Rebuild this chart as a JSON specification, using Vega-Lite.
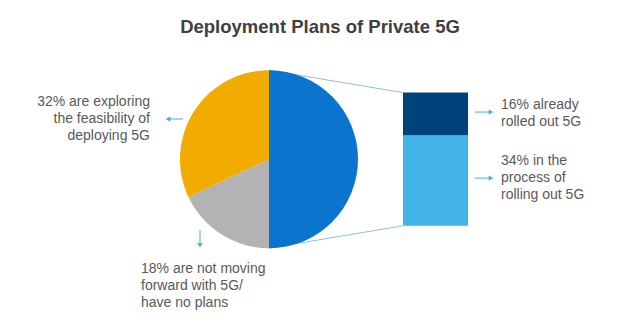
{
  "$schema": "https://vega.github.io/schema/vega-lite/v6.json",
  "width": 640,
  "height": 277,
  "autosize": {"type": "none"},
  "padding": {"top": 50, "left": 0, "right": 0, "bottom": 0},
  "background": "#ffffff",
  "title": {
    "text": "Deployment Plans of Private 5G",
    "font": "Liberation Sans",
    "fontSize": 18.5,
    "fontWeight": "bold",
    "color": "#404040",
    "anchor": "middle",
    "frame": "group",
    "baseline": "alphabetic",
    "offset": -1
  },
  "config": {
    "view": {"stroke": null},
    "axis": {"disable": true},
    "legend": {"disable": true},
    "text": {"font": "Liberation Sans", "fontSize": 14, "color": "#595959", "lineBreak": "\n", "lineHeight": 17, "baseline": "middle"}
  },
  "datasets": {
    "pie": [
      {"segment": "Rolling out or rolled out 5G", "value": 50, "rank": 1},
      {"segment": "Not moving forward / no plans", "value": 18, "rank": 2},
      {"segment": "Exploring feasibility", "value": 32, "rank": 3}
    ],
    "bar": [
      {"segment": "In the process of rolling out 5G", "value": 34, "rank": 1},
      {"segment": "Already rolled out 5G", "value": 16, "rank": 2}
    ],
    "notes": [
      {"id": "exploring", "label": "32% are exploring\nthe feasibility of\ndeploying 5G"},
      {"id": "noplans", "label": "18% are not moving\nforward with 5G/\nhave no plans"},
      {"id": "rolled", "label": "16% already\nrolled out 5G"},
      {"id": "process", "label": "34% in the\nprocess of\nrolling out 5G"}
    ]
  },
  "layer": [
    {
      "data": {"values": [{"c": "top"}]},
      "mark": {"type": "rule", "color": "#8DBFE3", "strokeWidth": 1},
      "encoding": {
        "x": {"datum": 269, "type": "quantitative", "scale": {"domain": [0, 640], "nice": false, "zero": false}, "axis": null},
        "y": {"datum": 58.4, "type": "quantitative", "scale": {"domain": [-38, 66], "nice": false, "zero": false}, "axis": null},
        "x2": {"datum": 403},
        "y2": {"datum": 50}
      }
    },
    {
      "data": {"values": [{"c": "bottom"}]},
      "mark": {"type": "rule", "color": "#8DBFE3", "strokeWidth": 1},
      "encoding": {
        "x": {"datum": 269, "type": "quantitative", "scale": {"domain": [0, 640], "nice": false, "zero": false}, "axis": null},
        "y": {"datum": -8.4, "type": "quantitative", "scale": {"domain": [-38, 66], "nice": false, "zero": false}, "axis": null},
        "x2": {"datum": 403},
        "y2": {"datum": 0}
      }
    },
    {
      "data": {"name": "pie"},
      "mark": {"type": "arc", "outerRadius": 89, "stroke": null},
      "encoding": {
        "theta": {"field": "value", "type": "quantitative", "stack": true},
        "order": {"field": "rank", "type": "quantitative"},
        "color": {"field": "segment", "type": "nominal", "legend": null,
          "scale": {
            "domain": ["Rolling out or rolled out 5G", "Not moving forward / no plans", "Exploring feasibility", "In the process of rolling out 5G", "Already rolled out 5G"],
            "range": ["#0A74CF", "#B3B3B3", "#F2AC00", "#41B3E6", "#00427A"]
          }},
        "x": {"datum": 269, "type": "quantitative", "scale": {"domain": [0, 640], "nice": false, "zero": false}, "axis": null},
        "y": {"datum": 25, "type": "quantitative", "scale": {"domain": [-38, 66], "nice": false, "zero": false}, "axis": null}
      }
    },
    {
      "data": {"name": "bar"},
      "transform": [
        {"stack": "value", "groupby": [], "sort": [{"field": "rank", "order": "ascending"}], "as": ["v0", "v1"]}
      ],
      "mark": {"type": "bar"},
      "encoding": {
        "x": {"datum": 403, "type": "quantitative", "scale": {"domain": [0, 640], "nice": false, "zero": false}, "axis": null},
        "x2": {"datum": 468},
        "y": {"field": "v0", "type": "quantitative", "scale": {"domain": [-38, 66], "nice": false, "zero": false}, "axis": null},
        "y2": {"field": "v1"},
        "color": {"field": "segment", "type": "nominal", "legend": null}
      }
    },
    {
      "data": {"name": "notes"},
      "transform": [{"filter": "datum.id === 'exploring'"}],
      "mark": {"type": "text", "align": "right"},
      "encoding": {
        "text": {"field": "label", "type": "nominal"},
        "x": {"datum": 150, "type": "quantitative", "scale": {"domain": [0, 640], "nice": false, "zero": false}, "axis": null},
        "y": {"datum": 46.5, "type": "quantitative", "scale": {"domain": [-38, 66], "nice": false, "zero": false}, "axis": null}
      }
    },
    {
      "data": {"name": "notes"},
      "transform": [{"filter": "datum.id === 'noplans'"}],
      "mark": {"type": "text", "align": "left"},
      "encoding": {
        "text": {"field": "label", "type": "nominal"},
        "x": {"datum": 141, "type": "quantitative", "scale": {"domain": [0, 640], "nice": false, "zero": false}, "axis": null},
        "y": {"datum": -16.2, "type": "quantitative", "scale": {"domain": [-38, 66], "nice": false, "zero": false}, "axis": null}
      }
    },
    {
      "data": {"name": "notes"},
      "transform": [{"filter": "datum.id === 'rolled'"}],
      "mark": {"type": "text", "align": "left"},
      "encoding": {
        "text": {"field": "label", "type": "nominal"},
        "x": {"datum": 501, "type": "quantitative", "scale": {"domain": [0, 640], "nice": false, "zero": false}, "axis": null},
        "y": {"datum": 45.35, "type": "quantitative", "scale": {"domain": [-38, 66], "nice": false, "zero": false}, "axis": null}
      }
    },
    {
      "data": {"name": "notes"},
      "transform": [{"filter": "datum.id === 'process'"}],
      "mark": {"type": "text", "align": "left"},
      "encoding": {
        "text": {"field": "label", "type": "nominal"},
        "x": {"datum": 501, "type": "quantitative", "scale": {"domain": [0, 640], "nice": false, "zero": false}, "axis": null},
        "y": {"datum": 24.3, "type": "quantitative", "scale": {"domain": [-38, 66], "nice": false, "zero": false}, "axis": null}
      }
    },
    {
      "data": {"values": [{"a": "exploring"}]},
      "mark": {"type": "rule", "color": "#4BACD6", "strokeWidth": 1},
      "encoding": {
        "x": {"datum": 183, "type": "quantitative", "scale": {"domain": [0, 640], "nice": false, "zero": false}, "axis": null},
        "x2": {"datum": 169},
        "y": {"datum": 40.1, "type": "quantitative", "scale": {"domain": [-38, 66], "nice": false, "zero": false}, "axis": null}
      }
    },
    {
      "data": {"values": [{"a": "exploring"}]},
      "mark": {"type": "point", "shape": "triangle-left", "filled": true, "color": "#4BACD6", "size": 28, "opacity": 1},
      "encoding": {
        "x": {"datum": 168, "type": "quantitative", "scale": {"domain": [0, 640], "nice": false, "zero": false}, "axis": null},
        "y": {"datum": 40.1, "type": "quantitative", "scale": {"domain": [-38, 66], "nice": false, "zero": false}, "axis": null}
      }
    },
    {
      "data": {"values": [{"a": "noplans"}]},
      "mark": {"type": "rule", "color": "#4BACD6", "strokeWidth": 1},
      "encoding": {
        "x": {"datum": 200, "type": "quantitative", "scale": {"domain": [0, 640], "nice": false, "zero": false}, "axis": null},
        "y": {"datum": -1.6, "type": "quantitative", "scale": {"domain": [-38, 66], "nice": false, "zero": false}, "axis": null},
        "y2": {"datum": -7}
      }
    },
    {
      "data": {"values": [{"a": "noplans"}]},
      "mark": {"type": "point", "shape": "triangle-down", "filled": true, "color": "#4BACD6", "size": 28, "opacity": 1},
      "encoding": {
        "x": {"datum": 200, "type": "quantitative", "scale": {"domain": [0, 640], "nice": false, "zero": false}, "axis": null},
        "y": {"datum": -7.3, "type": "quantitative", "scale": {"domain": [-38, 66], "nice": false, "zero": false}, "axis": null}
      }
    },
    {
      "data": {"values": [{"a": "rolled"}]},
      "mark": {"type": "rule", "color": "#4BACD6", "strokeWidth": 1},
      "encoding": {
        "x": {"datum": 475, "type": "quantitative", "scale": {"domain": [0, 640], "nice": false, "zero": false}, "axis": null},
        "x2": {"datum": 490},
        "y": {"datum": 42.7, "type": "quantitative", "scale": {"domain": [-38, 66], "nice": false, "zero": false}, "axis": null}
      }
    },
    {
      "data": {"values": [{"a": "rolled"}]},
      "mark": {"type": "point", "shape": "triangle-right", "filled": true, "color": "#4BACD6", "size": 28, "opacity": 1},
      "encoding": {
        "x": {"datum": 491, "type": "quantitative", "scale": {"domain": [0, 640], "nice": false, "zero": false}, "axis": null},
        "y": {"datum": 42.7, "type": "quantitative", "scale": {"domain": [-38, 66], "nice": false, "zero": false}, "axis": null}
      }
    },
    {
      "data": {"values": [{"a": "process"}]},
      "mark": {"type": "rule", "color": "#4BACD6", "strokeWidth": 1},
      "encoding": {
        "x": {"datum": 475, "type": "quantitative", "scale": {"domain": [0, 640], "nice": false, "zero": false}, "axis": null},
        "x2": {"datum": 490},
        "y": {"datum": 17.9, "type": "quantitative", "scale": {"domain": [-38, 66], "nice": false, "zero": false}, "axis": null}
      }
    },
    {
      "data": {"values": [{"a": "process"}]},
      "mark": {"type": "point", "shape": "triangle-right", "filled": true, "color": "#4BACD6", "size": 28, "opacity": 1},
      "encoding": {
        "x": {"datum": 491, "type": "quantitative", "scale": {"domain": [0, 640], "nice": false, "zero": false}, "axis": null},
        "y": {"datum": 17.9, "type": "quantitative", "scale": {"domain": [-38, 66], "nice": false, "zero": false}, "axis": null}
      }
    }
  ]
}
